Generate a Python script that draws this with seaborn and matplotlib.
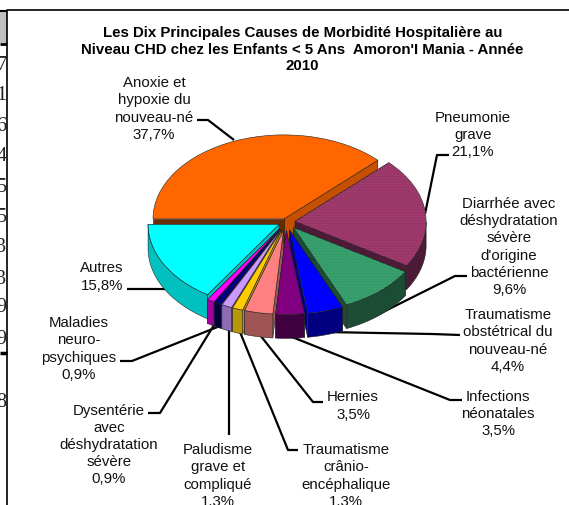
import numpy as np
import matplotlib
matplotlib.use("Agg")
import matplotlib.pyplot as plt
from matplotlib.patches import Polygon, Rectangle, Wedge
import seaborn as sns

figW, figH = 569, 506

causes = [
    "Anoxie et\nhypoxie du\nnouveau-né",
    "Pneumonie\ngrave",
    "Diarrhée avec\ndéshydratation\nsévère\nd'origine\nbactérienne",
    "Traumatisme\nobstétrical du\nnouveau-né",
    "Infections\nnéonatales",
    "Hernies",
    "Traumatisme\ncrânio-\nencéphalique",
    "Paludisme\ngrave et\ncompliqué",
    "Dysentérie\navec\ndéshydratation\nsévère",
    "Maladies\nneuro-\npsychiques",
    "Autres",
]
percents = [37.7, 21.1, 9.6, 4.4, 3.5, 3.5, 1.3, 1.3, 0.9, 0.9, 15.8]
title = ("Les Dix Principales Causes de Morbidité Hospitalière au\n"
         "Niveau CHD chez les Enfants < 5 Ans  Amoron'I Mania - Année\n2010")
tableDigits = ["7", "1", "6", "4", "5", "5", "3", "3", "9", "9", "8"]

topColors = ["#FF6600", "#993366", "#339966", "#0000FF", "#800080", "#FF8080",
             "#FFCC00", "#CC99FF", "#000080", "#FF00FF", "#00FFFF"]
sideColors = ["#C65000", "#4D1A38", "#1A4D33", "#000080", "#400040", "#A05555",
              "#B8960C", "#8E6BB3", "#000040", "#A000A0", "#00C0C0"]
explode = [0.04, 0.07, 0.09, 0.1, 0.1, 0.1, 0.1, 0.1, 0.1, 0.1, 0.06]

# label centres and leader paths, in picture pixels
labelPos = [(154, 109), (473, 135), (509, 247), (508, 341), (498, 414), (353, 406),
            (346, 476), (218, 476), (109, 445), (79, 349), (102, 277)]
leaders = [
    [(197, 121), (208, 121), (234, 141)],
    [(449, 156), (437, 156), (425, 215)],
    [(467, 277), (455, 277), (375, 317)],
    [(460, 336), (432, 335), (325, 333)],
    [(462, 401), (450, 401), (292, 338)],
    [(323, 403), (313, 403), (260, 336)],
    [(298, 451), (288, 451), (240, 333)],
    [(229, 436), (229, 330)],
    [(148, 414), (160, 414), (214, 326)],
    [(120, 362), (132, 362), (220, 327)],
    [(127, 290), (165, 290)],
]
digitRows = [65, 95, 126, 156, 187, 217, 248, 279, 308, 339, 403]

pieCx, pieCy = 286, 223
radX, radY = 131, 84
depth = 24 / radY


def drawWalls(ax, wedge, color, zorder, cutColor=None):
    cx, cy = wedge.center
    t1, t2 = wedge.theta1, wedge.theta2
    angles = np.radians(np.linspace(t1, t2, 120))
    keep = angles[np.sin(angles) <= 1e-9]
    for t, col in ((t1, color), (t2, cutColor or color)):
        x = cx + np.cos(np.radians(t))
        y = cy + np.sin(np.radians(t))
        pts = [(cx, cy), (x, y), (x, y - depth), (cx, cy - depth)]
        ax.add_patch(Polygon(pts, closed=True, fc=col, ec="#222222", lw=0.4, zorder=zorder))
    if len(keep) > 1:
        xs = cx + np.cos(keep)
        ys = cy + np.sin(keep)
        pts = list(zip(xs, ys)) + list(zip(xs[::-1], ys[::-1] - depth))
        ax.add_patch(Polygon(pts, closed=True, fc=color, ec="#222222", lw=0.4, zorder=zorder))


def main():
    sns.set_theme(style="white", font="Liberation Sans")
    palette = sns.color_palette(topColors)

    fig = plt.figure(figsize=(figW / 100, figH / 100), dpi=100, facecolor="white")
    ax = fig.add_axes([0, 0, 1, 1], zorder=1)
    ax.set_xlim(0, figW)
    ax.set_ylim(figH, 0)
    ax.axis("off")

    # bit of the table sitting behind the chart
    ax.add_patch(Rectangle((0, 13), 7, 31, fc="#C0C0C0", ec="none"))
    for y, lw in ((12, 1.5), (44.5, 2.0), (354, 2.5)):
        ax.plot([0, 7], [y, y], color="black", lw=lw, solid_capstyle="butt")
    for digit, y in zip(tableDigits, digitRows):
        ax.text(6.5, y, digit, ha="right", va="center", fontsize=14.5,
                family="Liberation Serif", color="#222222")

    # chart frame
    ax.plot([7.5, 7.5, figW], [figH, 10.5, 10.5], color="black", lw=1.2)

    ax.text(302.5, 49.5, title, ha="center", va="center", fontsize=10.8, fontweight="bold",
            color="black", linespacing=1.26)

    for path in leaders:
        xs, ys = zip(*path)
        sns.lineplot(x=list(xs), y=list(ys), sort=False, estimator=None, color="black",
                     lw=1.6, ax=ax, solid_capstyle="butt")
    ax.set_xlim(0, figW)
    ax.set_ylim(figH, 0)
    ax.axis("off")

    for name, pct, (x, y) in zip(causes, percents, labelPos):
        label = f"{name}\n{pct:.1f}%".replace(".", ",")
        ax.text(x, y, label, ha="center", va="center", fontsize=10.8, color="#111111",
                linespacing=1.28)

    # pie axes: one data unit is radX pixels across and radY pixels down
    limX, limY = 1.3, 1.7
    pieAx = fig.add_axes([(pieCx - limX * radX) / figW,
                          1 - (pieCy + limY * radY) / figH,
                          2 * limX * radX / figW,
                          2 * limY * radY / figH], zorder=2)
    wedges, _ = pieAx.pie(percents, explode=explode, colors=palette, startangle=180,
                          counterclock=False, radius=1.0,
                          wedgeprops={"edgecolor": "#222222", "linewidth": 0.4})
    pieAx.set_aspect("auto")
    pieAx.set_xlim(-limX, limX)
    pieAx.set_ylim(-limY, limY)
    pieAx.axis("off")
    pieAx.patch.set_alpha(0)

    mids = [np.sin(np.radians((w.theta1 + w.theta2) / 2)) for w in wedges]
    order = np.argsort(mids)[::-1]
    for rank, idx in enumerate(order):
        w = wedges[idx]
        base = 3 + rank * 3
        # left cut of the orange slice is the dark one
        cut = "#6B2A00" if idx == 0 else None
        drawWalls(pieAx, w, sideColors[idx], base, cutColor=cut)
        w.set_zorder(base + 1)
        if idx in (1, 2):
            pieAx.add_patch(Wedge(w.center, w.r, w.theta1, w.theta2, fill=False,
                                  hatch="......", ec="#A34472" if idx == 1 else "#3FA574",
                                  lw=0, zorder=base + 2))

    fig.savefig("out.png", dpi=100)
    plt.close(fig)


if __name__ == "__main__":
    main()
